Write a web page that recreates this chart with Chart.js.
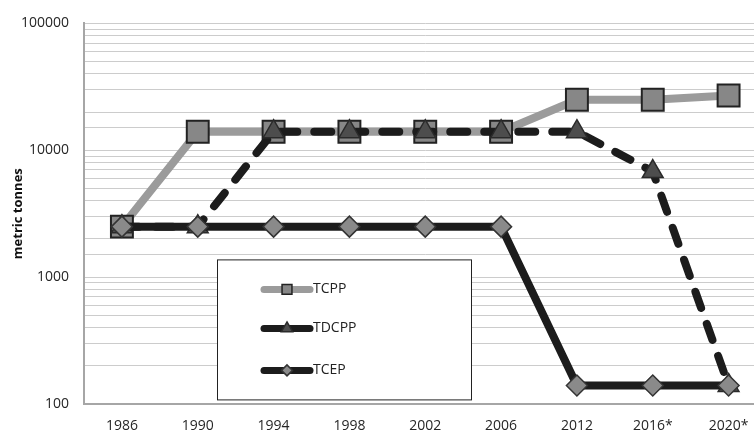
<!DOCTYPE html>
<html>
<head>
<meta charset="utf-8">
<script src="https://cdn.jsdelivr.net/npm/chart.js@4.4.0/dist/chart.umd.min.js"></script>
<style>
  html, body { margin: 0; padding: 0; background: #fff; overflow: hidden; }
  #wrap { width: 784px; height: 431px; }
</style>
</head>
<body>
<div id="wrap"><canvas id="myChart1" width="784" height="431"></canvas></div>
<script>
var years = ['1986', '1990', '1994', '1998', '2002', '2006', '2012', '2016*', '2020*'];
var tcpp  = [2500, 14000, 14000, 14000, 14000, 14000, 25000, 25000, 27000];
var tdcpp = [2500, 2500, 14000, 14000, 14000, 14000, 14000, 6800, 140];
var tcep  = [2500, 2500, 2500, 2500, 2500, 2500, 140, 140, 140];
var yTickLabels = [100, 1000, 10000, 100000];

var FONT = "'Open Sans', 'Liberation Sans', sans-serif";

// legend drawn inside the plot, in a boxed panel
var boxLegend = {
    id: 'boxLegend',
    afterDatasetsDraw: function(chart) {
        var ctx = chart.ctx, a = chart.chartArea;
        var x0 = a.left + 133, y0 = a.top + 236, w = 254, h = 140;
        ctx.save();
        ctx.fillStyle = '#fff';
        ctx.fillRect(x0, y0, w, h);
        ctx.strokeStyle = '#222';
        ctx.lineWidth = 1;
        ctx.strokeRect(x0 + 0.5, y0 + 0.5, w, h);
        var rows = [30, 69, 111];
        var sizes = [7, 6.5, 5.5];
        chart.data.datasets.forEach(function(ds, i) {
            var y = y0 + rows[i], lx = x0 + 47, rx = x0 + 93;
            ctx.strokeStyle = ds.borderColor;
            ctx.lineWidth = 7;
            ctx.lineCap = 'round';
            ctx.setLineDash([]);
            ctx.beginPath(); ctx.moveTo(lx, y); ctx.lineTo(rx, y); ctx.stroke();
            ctx.fillStyle = ds.pointBackgroundColor;
            ctx.strokeStyle = ds.pointBorderColor;
            ctx.lineWidth = 1.5;
            Chart.helpers.drawPoint(ctx, {
                pointStyle: ds.pointStyle, radius: sizes[i],
                borderWidth: 1.5, rotation: 0
            }, (lx + rx) / 2, y);
            ctx.fillStyle = '#222';
            ctx.font = '14px ' + FONT;
            ctx.textBaseline = 'middle';
            ctx.fillText(ds.label, rx + 3, y);
        });
        ctx.restore();
    }
};

var chart = new Chart('myChart1', {
    type: 'line',
    data: {
        labels: years,
        datasets: [{
            label: 'TCPP',
            data: tcpp,
            borderColor: '#9b9b9b',
            borderWidth: 8,
            pointStyle: 'rect',
            pointRadius: 15.5,
            pointBackgroundColor: '#878787',
            pointBorderColor: '#222',
            pointBorderWidth: 2,
            order: 3
        }, {
            label: 'TDCPP',
            data: tdcpp,
            borderColor: '#1c1c1c',
            borderWidth: 8,
            borderDash: [17, 17],
            borderCapStyle: 'round',
            pointStyle: 'triangle',
            pointRadius: 12,
            pointBackgroundColor: '#4d4d4d',
            pointBorderColor: '#2a2a2a',
            pointBorderWidth: 1.5,
            order: 2
        }, {
            label: 'TCEP',
            data: tcep,
            borderColor: '#1c1c1c',
            borderWidth: 8,
            pointStyle: 'rectRot',
            pointRadius: 10.5,
            pointBackgroundColor: '#8a8a8a',
            pointBorderColor: '#333',
            pointBorderWidth: 1.5,
            order: 1
        }]
    },
    options: {
        responsive: false,
        animation: false,
        layout: { padding: { left: 10, right: 3, top: 21, bottom: 0 } },
        plugins: { legend: { display: false }, tooltip: { enabled: false } },
        scales: {
            x: {
                offset: true,
                grid: { display: false, drawTicks: false },
                border: { color: '#a6a6a6', width: 2 },
                ticks: { color: '#262626', font: { family: FONT, size: 14 }, padding: 14, maxRotation: 0 },
                afterFit: function(s) { s.height = 27; }
            },
            y: {
                type: 'logarithmic',
                min: 100,
                max: 100000,
                grid: { color: '#cccccc', lineWidth: 1, drawTicks: false },
                border: { color: '#a6a6a6', width: 2 },
                ticks: {
                    autoSkip: false,
                    color: '#262626',
                    font: { family: FONT, size: 14 },
                    padding: 15,
                    callback: function(v) { return yTickLabels.indexOf(v) >= 0 ? String(v) : ''; }
                },
                title: {
                    display: true, text: 'metric tonnes', color: '#111',
                    font: { family: FONT, size: 13, weight: 'bold' }, padding: { top: 0, bottom: 0 }
                },
                afterFit: function(s) { s.width = 74; }
            }
        }
    },
    plugins: [boxLegend]
});
</script>
</body>
</html>
